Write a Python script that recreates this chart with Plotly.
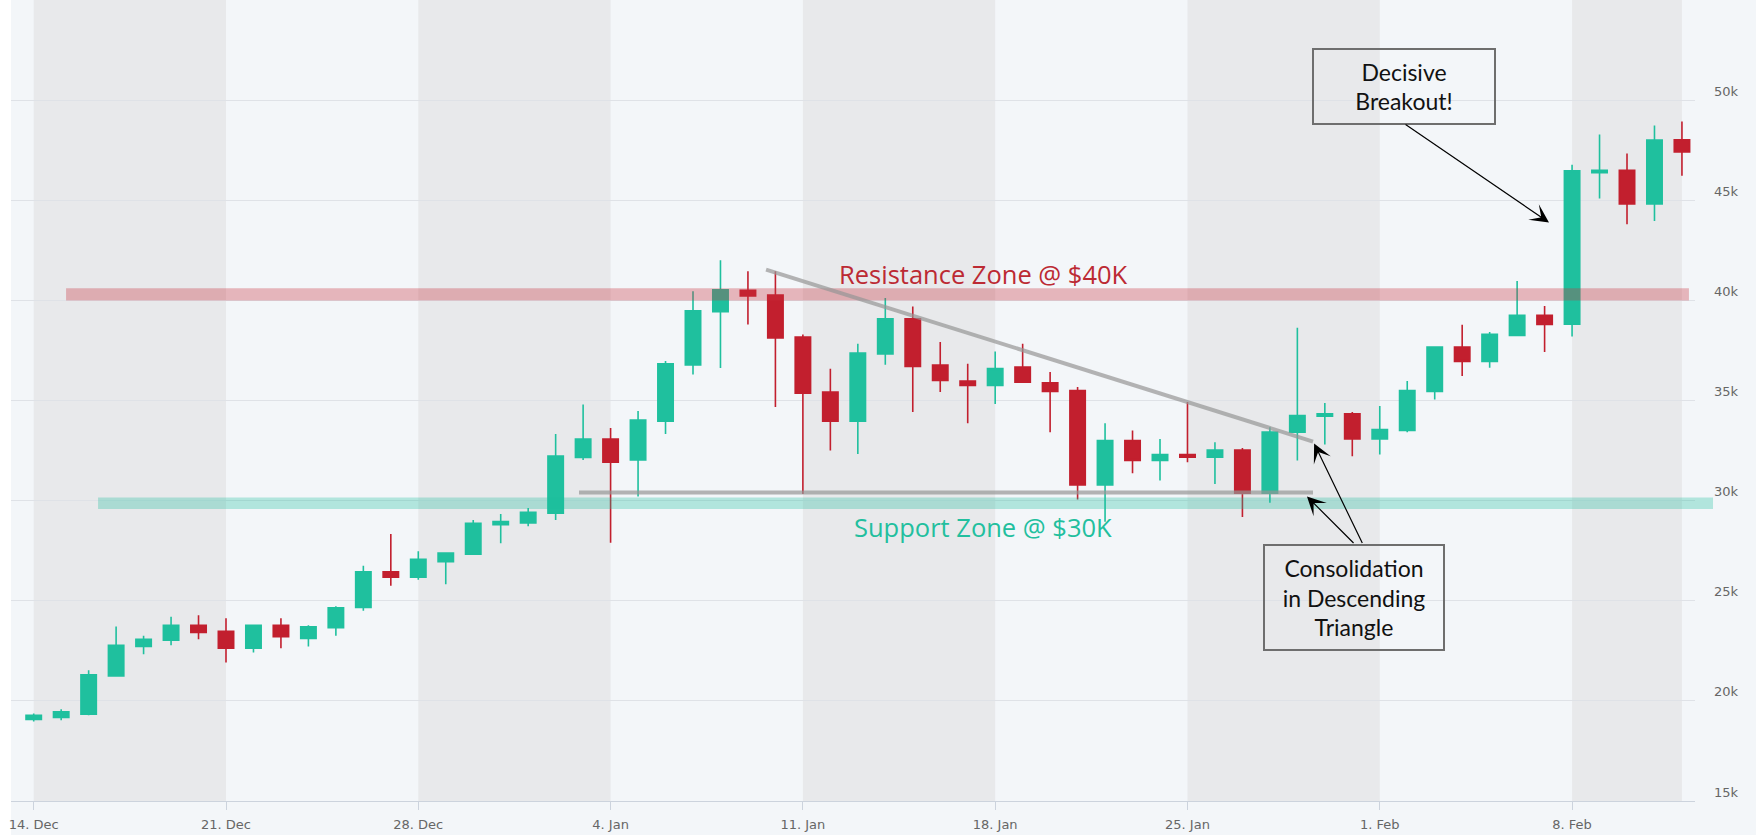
import plotly.graph_objects as go

# ---------------- data ----------------
DATES = [
    "2020-12-14", "2020-12-15", "2020-12-16", "2020-12-17", "2020-12-18", "2020-12-19", "2020-12-20",
    "2020-12-21", "2020-12-22", "2020-12-23", "2020-12-24", "2020-12-25", "2020-12-26", "2020-12-27",
    "2020-12-28", "2020-12-29", "2020-12-30", "2020-12-31", "2021-01-01", "2021-01-02", "2021-01-03",
    "2021-01-04", "2021-01-05", "2021-01-06", "2021-01-07", "2021-01-08", "2021-01-09", "2021-01-10",
    "2021-01-11", "2021-01-12", "2021-01-13", "2021-01-14", "2021-01-15", "2021-01-16", "2021-01-17",
    "2021-01-18", "2021-01-19", "2021-01-20", "2021-01-21", "2021-01-22", "2021-01-23", "2021-01-24",
    "2021-01-25", "2021-01-26", "2021-01-27", "2021-01-28", "2021-01-29", "2021-01-30", "2021-01-31",
    "2021-02-01", "2021-02-02", "2021-02-03", "2021-02-04", "2021-02-05", "2021-02-06", "2021-02-07",
    "2021-02-08", "2021-02-09", "2021-02-10", "2021-02-11", "2021-02-12",
]
OPEN = [
    19070, 19170, 19330, 21250, 22720, 23030, 23780,
    23480, 22630, 23780, 23120, 23650, 24670, 26450,
    26170, 26950, 27330, 28800, 28880, 29370, 32150,
    33080, 32030, 33970, 36780, 39430, 40500, 40270,
    38170, 35420, 33970, 37320, 39080, 36770, 35970,
    35750, 36670, 35880, 35500, 30780, 33000, 32000,
    32300, 32170, 32530, 30370, 33420, 34220, 34330,
    33080, 33500, 35450, 37670, 36950, 38250, 39250,
    38810, 46380, 46490, 44810, 48020,
]
HIGH = [
    19370, 19580, 21530, 23720, 23250, 24200, 24280,
    24120, 23800, 24120, 23780, 24730, 26750, 28330,
    27470, 27400, 29030, 29330, 29630, 33330, 34800,
    33630, 34480, 36970, 40450, 42000, 41450, 41450,
    38300, 36580, 37830, 40120, 39700, 37920, 36830,
    37450, 37830, 36420, 35670, 33870, 33500, 33080,
    34920, 32920, 32630, 33670, 38630, 34870, 34420,
    34720, 35970, 37680, 38780, 38420, 40970, 39720,
    46770, 48280, 47330, 48730, 48930,
]
LOW = [
    18970, 19030, 19280, 21230, 22330, 22780, 23080,
    21920, 22420, 22630, 22720, 23250, 24500, 25750,
    26050, 25830, 27320, 27870, 28720, 29030, 32030,
    27900, 30200, 33330, 36300, 36620, 38800, 34670,
    30330, 32500, 32330, 36780, 34420, 35420, 33870,
    34830, 35900, 33420, 30050, 28950, 31370, 31000,
    31920, 30830, 29180, 29900, 32000, 32800, 32220,
    32300, 33420, 35050, 36220, 36630, 38230, 37420,
    38200, 45090, 43800, 43970, 46220,
]
CLOSE = [
    19280, 19450, 21300, 22780, 23080, 23780, 23420,
    22630, 23780, 23200, 23700, 24650, 26450, 26170,
    27070, 27380, 28870, 28950, 29420, 32220, 33080,
    31920, 34020, 36830, 39480, 40530, 40220, 38120,
    35370, 33970, 37370, 39080, 36700, 36000, 35750,
    36600, 35920, 35450, 30780, 33000, 32000, 32300,
    32170, 32530, 30370, 33420, 34250, 34330, 33080,
    33550, 35500, 37670, 36950, 38300, 39250, 38800,
    46470, 46500, 44810, 48000, 47410,
]

Y_TICKS = [15000, 20000, 25000, 30000, 35000, 40000, 45000, 50000]
Y_TICK_TEXT = ["15k", "20k", "25k", "30k", "35k", "40k", "45k", "50k"]
X_TICKS = ["2020-12-14", "2020-12-21", "2020-12-28", "2021-01-04", "2021-01-11",
           "2021-01-18", "2021-01-25", "2021-02-01", "2021-02-08"]
X_TICK_TEXT = ["14. Dec", "21. Dec", "28. Dec", "4. Jan", "11. Jan",
               "18. Jan", "25. Jan", "1. Feb", "8. Feb"]

# alternating week bands (start, end)
WEEK_BANDS = [("2020-12-14", "2020-12-21"), ("2020-12-28", "2021-01-04"),
              ("2021-01-11", "2021-01-18"), ("2021-01-25", "2021-02-01"),
              ("2021-02-08", "2021-02-12")]

RESISTANCE_ZONE = (40000, 40600)
SUPPORT_ZONE = (29580, 30160)
RESISTANCE_LABEL = "Resistance Zone @ $40K"
SUPPORT_LABEL = "Support Zone @ $30K"
ZONE_LABEL_AT = ("2021-01-17 13:25", 41300, 28675)   # x, y resistance, y support

# descending triangle lines (date, price)
TRIANGLE_TOP = [("2021-01-09 15:50", 41540), ("2021-01-29 13:40", 32950)]
TRIANGLE_BASE = [("2021-01-02 20:25", 30405), ("2021-01-29 13:40", 30405)]

# callout boxes (x, y, text)
BREAKOUT_NOTE = ("2021-02-01 21:13", 50704, "Decisive<br>Breakout!")
CONSOLIDATION_NOTE = ("2021-01-31 01:30", 25187, "Consolidation<br>in Descending<br>Triangle")
# arrows: (start), (tip)
ARROWS = [
    (("2021-02-01 21:13", 48832), ("2021-02-07 03:50", 43888)),
    (("2021-01-31 02:24", 27808), ("2021-01-29 08:24", 30210)),
    (("2021-01-31 09:22", 27808), ("2021-01-29 14:38", 32852)),
]

X_RANGE = ["2020-12-13 04:10", "2021-02-12 11:24"]
Y_RANGE = [15000, 55000]

# ---------------- styles ----------------
GREEN = "#1fc09e"
RED = "#c21f2e"
BG = "#f3f6f9"
BAND = "#e8e9eb"
GRID = "#dfe2e7"
TICK_FONT = dict(family="DejaVu Sans", size=13, color="#666666")
NOTE_FONT = dict(family="Lato", size=23, color="#111111")

fig = go.Figure()

fig.add_trace(go.Candlestick(
    x=DATES, open=OPEN, high=HIGH, low=LOW, close=CLOSE,
    increasing=dict(fillcolor=GREEN, line=dict(color=GREEN, width=1.6)),
    decreasing=dict(fillcolor=RED, line=dict(color=RED, width=1.6)),
    hoverinfo="skip", showlegend=False,
))

shapes = []
# white strip left of the plot
shapes.append(dict(type="rect", xref="paper", yref="paper", x0=-0.01, x1=0, y0=-0.06, y1=1.0,
                   fillcolor="#ffffff", line=dict(width=0), layer="below"))
for a, b in WEEK_BANDS:
    shapes.append(dict(type="rect", xref="x", yref="paper", x0=a, x1=b, y0=0, y1=1,
                       fillcolor=BAND, line=dict(width=0), layer="below"))
# zones
shapes.append(dict(type="rect", xref="paper", yref="y", x0=0.0327, x1=0.9964,
                   y0=RESISTANCE_ZONE[0], y1=RESISTANCE_ZONE[1],
                   fillcolor="rgba(200,50,60,0.33)", line=dict(width=0), layer="above"))
shapes.append(dict(type="rect", xref="paper", yref="y", x0=0.0517, x1=1.0107,
                   y0=SUPPORT_ZONE[0], y1=SUPPORT_ZONE[1],
                   fillcolor="rgba(26,188,156,0.3)", line=dict(width=0), layer="above"))
# triangle lines
for seg in (TRIANGLE_TOP, TRIANGLE_BASE):
    shapes.append(dict(type="line", xref="x", yref="y",
                       x0=seg[0][0], y0=seg[0][1], x1=seg[1][0], y1=seg[1][1],
                       line=dict(color="rgba(150,150,150,0.7)", width=4), layer="above"))

annotations = [
    dict(x=ZONE_LABEL_AT[0], y=ZONE_LABEL_AT[1], xref="x", yref="y", text=RESISTANCE_LABEL,
         showarrow=False, font=dict(family="Open Sans", size=25.5, color="#bc2a33")),
    dict(x=ZONE_LABEL_AT[0], y=ZONE_LABEL_AT[2], xref="x", yref="y", text=SUPPORT_LABEL,
         showarrow=False, font=dict(family="Open Sans", size=25.5, color="#22bf9e")),
    dict(x=BREAKOUT_NOTE[0], y=BREAKOUT_NOTE[1], xref="x", yref="y", text=BREAKOUT_NOTE[2],
         showarrow=False, font=NOTE_FONT, bordercolor="#6e6e6e", borderwidth=2, borderpad=0,
         width=180, height=73, align="center", valign="middle"),
    dict(x=CONSOLIDATION_NOTE[0], y=CONSOLIDATION_NOTE[1], xref="x", yref="y",
         text=CONSOLIDATION_NOTE[2],
         showarrow=False, font=NOTE_FONT, bordercolor="#6e6e6e", borderwidth=2, borderpad=0,
         width=178, height=103, align="center", valign="middle"),
]
for (sx, sy), (tx, ty) in ARROWS:
    annotations.append(dict(x=tx, y=ty, ax=sx, ay=sy, xref="x", yref="y", axref="x", ayref="y",
                            text="", showarrow=True, arrowhead=3, arrowsize=2.6, arrowwidth=1.2,
                            arrowcolor="#000000", standoff=0, startstandoff=0))

fig.update_layout(
    width=1756, height=835,
    margin=dict(l=11, r=61, t=0, b=34),
    paper_bgcolor=BG, plot_bgcolor=BG,
    shapes=shapes, annotations=annotations,
    boxgap=0.44, boxgroupgap=0,
    showlegend=False,
    xaxis=dict(type="date", range=X_RANGE, rangeslider=dict(visible=False),
               tickvals=X_TICKS, ticktext=X_TICK_TEXT, tickfont=TICK_FONT,
               showgrid=False, zeroline=False, showline=True, linecolor="#ccd3dd", linewidth=1,
               ticks="outside", ticklen=8, tickcolor="#ccd3dd", ticklabelstandoff=3),
    yaxis=dict(side="right", range=Y_RANGE, tickvals=Y_TICKS, ticktext=Y_TICK_TEXT,
               tickfont=TICK_FONT, showgrid=True, gridcolor=GRID, gridwidth=1,
               zeroline=False, showline=False, ticks="", ticklabelstandoff=18,
               ticklabelshift=-9),
)

fig.write_html("out.html",
               config={"displayModeBar": False},
               post_script="document.body.style.margin='0px';document.body.style.overflow='hidden';")
